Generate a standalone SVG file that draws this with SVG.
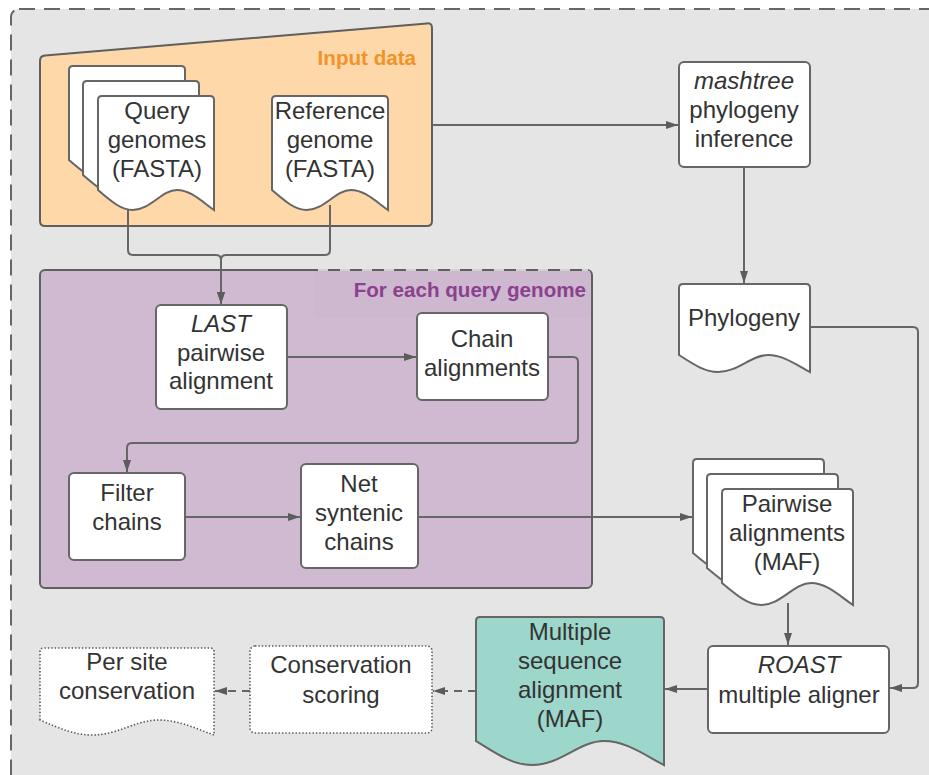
<svg xmlns="http://www.w3.org/2000/svg" width="929" height="775" viewBox="0 0 929 775">
<style>
.t{font-family:"Liberation Sans",Arial,sans-serif;font-size:24px;fill:#333;text-anchor:middle}
.i{font-style:italic}
.lbl{font-family:"Liberation Sans",Arial,sans-serif;font-size:20.6px;font-weight:bold;text-anchor:end}
.box{fill:#fff;stroke:#666;stroke-width:2}
.dot{fill:#fff;stroke:#555;stroke-width:1.6;stroke-dasharray:1.4 2}
.c{fill:none;stroke:#666;stroke-width:2}
.d{stroke-dasharray:8 6}
</style>
<defs>
<marker id="ah" viewBox="0 0 12 8" refX="12" refY="4" markerWidth="6" markerHeight="4" orient="auto">
<path d="M0,0 L12,4 L0,8 Z" fill="#5c5c5c"/>
</marker>
</defs>
<rect width="929" height="775" fill="#fff"/>
<g id="outer">
<rect x="11" y="9" width="940" height="790" rx="8" fill="#e4e5e4" stroke="#666" stroke-width="2" stroke-dasharray="16 9"/>
</g>
<g id="input-data">
<path d="M40,61 Q40,56 45,55.6 L427,23.4 Q432,23 432,28 V221 Q432,226 427,226 H45 Q40,226 40,221 Z" fill="#fed8a8" stroke="#5f5f5f" stroke-width="2"/>
<text class="lbl" x="416" y="65" fill="#f0932b">Input data</text>
</g>
<g id="per-query">
<rect x="40" y="270" width="552" height="318" rx="5" fill="#cfbad2" stroke="#5f5f5f" stroke-width="2"/>
<rect x="315" y="271" width="275" height="47" fill="#cdb8d0"/>
<line x1="318" y1="270" x2="588" y2="270" stroke="#d2d2d2" stroke-width="2" stroke-dasharray="10 12"/>
<text class="lbl" x="586" y="297" fill="#8b418d">For each query genome</text>
</g>
<g id="connectors">
<path class="c" d="M128,208 V250 Q128,255 133,255 H216 Q221,255 221,260 V304" marker-end="url(#ah)"/>
<path class="c" d="M330,205 V250 Q330,255 325,255 H226 Q221,255 221,260 V304" marker-end="url(#ah)"/>
<path class="c" d="M432,125 H678" marker-end="url(#ah)"/>
<path class="c" d="M744,167 V283" marker-end="url(#ah)"/>
<path class="c" d="M287,357 H416" marker-end="url(#ah)"/>
<path class="c" d="M548,357 H573 Q578,357 578,362 V438 Q578,443 573,443 H132 Q127,443 127,448 V472" marker-end="url(#ah)"/>
<path class="c" d="M185,517 H300" marker-end="url(#ah)"/>
<path class="c" d="M418,517 H692" marker-end="url(#ah)"/>
<path class="c" d="M810,327 H913 Q918,327 918,332 V683 Q918,688 913,688 H890" marker-end="url(#ah)"/>
<path class="c" d="M788,603 V645" marker-end="url(#ah)"/>
<path class="c" d="M707,689 H665" marker-end="url(#ah)"/>
<path class="c d" d="M476,691 H433" marker-end="url(#ah)"/>
<path class="c d" d="M250,691 H215" marker-end="url(#ah)"/>
</g>
<g id="query-genomes">
<path class="box" d="M69,160 V70 Q69,66 73,66 H181 Q185,66 185,70 V180 C173.4,172 161.8,160 147.9,160 C132.8,160 121.2,180 103.8,180 C92.2,180 82.9,172 69,160 Z"/>
<path class="box" d="M83,175 V85 Q83,81 87,81 H195 Q199,81 199,85 V195 C187.4,187 175.8,175 161.9,175 C146.8,175 135.2,195 117.8,195 C106.2,195 96.9,187 83,175 Z"/>
<path class="box" d="M98,190 V100 Q98,96 102,96 H210 Q214,96 214,100 V210 C202.4,202 190.8,190 176.9,190 C161.8,190 150.2,210 132.8,210 C121.2,210 111.9,202 98,190 Z"/>
<text class="t" x="157" y="119">Query</text>
<text class="t" x="157" y="148">genomes</text>
<text class="t" x="157" y="177">(FASTA)</text>
</g>
<g id="reference-genome">
<path class="box" d="M272,190 V100 Q272,96 276,96 H384 Q388,96 388,100 V210 C376.4,202 364.8,190 350.9,190 C335.8,190 324.2,210 306.8,210 C295.2,210 285.9,202 272,190 Z"/>
<text class="t" x="330" y="119">Reference</text>
<text class="t" x="330" y="148">genome</text>
<text class="t" x="330" y="177">(FASTA)</text>
</g>
<g id="mashtree">
<rect class="box" x="679" y="62" width="131" height="105" rx="5"/>
<text class="t i" x="744" y="89">mashtree</text>
<text class="t" x="744" y="118">phylogeny</text>
<text class="t" x="744" y="147">inference</text>
</g>
<g id="phylogeny">
<path class="box" d="M679,355 V288 Q679,284 683,284 H806 Q810,284 810,288 V372 C796.9,365.2 783.8,355 768.1,355 C751.05,355 737.95,372 718.3,372 C705.2,372 694.7,365.2 679,355 Z"/>
<text class="t" x="744" y="326">Phylogeny</text>
</g>
<g id="last">
<rect class="box" x="156" y="305" width="131" height="104" rx="5"/>
<text class="t i" x="221" y="332">LAST</text>
<text class="t" x="221" y="361">pairwise</text>
<text class="t" x="221" y="389">alignment</text>
</g>
<g id="chain">
<rect class="box" x="417" y="313" width="131" height="87" rx="5"/>
<text class="t" x="482" y="347">Chain</text>
<text class="t" x="482" y="376">alignments</text>
</g>
<g id="filter">
<rect class="box" x="69" y="473" width="116" height="87" rx="5"/>
<text class="t" x="127" y="501">Filter</text>
<text class="t" x="127" y="530">chains</text>
</g>
<g id="net">
<rect class="box" x="301" y="464" width="117" height="104" rx="5"/>
<text class="t" x="359" y="492">Net</text>
<text class="t" x="359" y="521">syntenic</text>
<text class="t" x="359" y="550">chains</text>
</g>
<g id="pairwise">
<path class="box" d="M693,553 V463 Q693,459 697,459 H820 Q824,459 824,463 V575 C810.9,566.2 797.8,553 782.1,553 C765.05,553 751.95,575 732.3,575 C719.2,575 708.7,566.2 693,553 Z"/>
<path class="box" d="M707,568 V478 Q707,474 711,474 H834 Q838,474 838,478 V590 C824.9,581.2 811.8,568 796.1,568 C779.05,568 765.95,590 746.3,590 C733.2,590 722.7,581.2 707,568 Z"/>
<path class="box" d="M722,583 V493 Q722,489 726,489 H849 Q853,489 853,493 V605 C839.9,596.2 826.8,583 811.1,583 C794.05,583 780.95,605 761.3,605 C748.2,605 737.7,596.2 722,583 Z"/>
<text class="t" x="787" y="512">Pairwise</text>
<text class="t" x="787" y="541">alignments</text>
<text class="t" x="787" y="570">(MAF)</text>
</g>
<g id="roast">
<rect class="box" x="708" y="646" width="181" height="87" rx="5"/>
<text class="t i" x="799" y="673">ROAST</text>
<text class="t" x="799" y="703">multiple aligner</text>
</g>
<g id="msa">
<path d="M476,741 V621 Q476,617 480,617 H660 Q664,617 664,621 V765 C645.2,755.4 626.4,741 603.8,741 C579.4,741 560.6,765 532.4,765 C513.6,765 498.6,755.4 476,741 Z" fill="#9dd6cb" stroke="#666" stroke-width="2"/>
<text class="t" x="570" y="640">Multiple</text>
<text class="t" x="570" y="669">sequence</text>
<text class="t" x="570" y="698">alignment</text>
<text class="t" x="570" y="727">(MAF)</text>
</g>
<g id="conservation-scoring">
<rect class="dot" x="250" y="646" width="182" height="87" rx="5"/>
<text class="t" x="341" y="673">Conservation</text>
<text class="t" x="341" y="703">scoring</text>
</g>
<g id="per-site">
<path class="dot" d="M40,720 V652 Q40,648 44,648 H210 Q214,648 214,652 V735 C196.6,729 179.2,720 158.3,720 C135.7,720 118.3,735 92.2,735 C74.8,735 60.9,729 40,720 Z"/>
<text class="t" x="127" y="670">Per site</text>
<text class="t" x="127" y="699">conservation</text>
</g>
</svg>
